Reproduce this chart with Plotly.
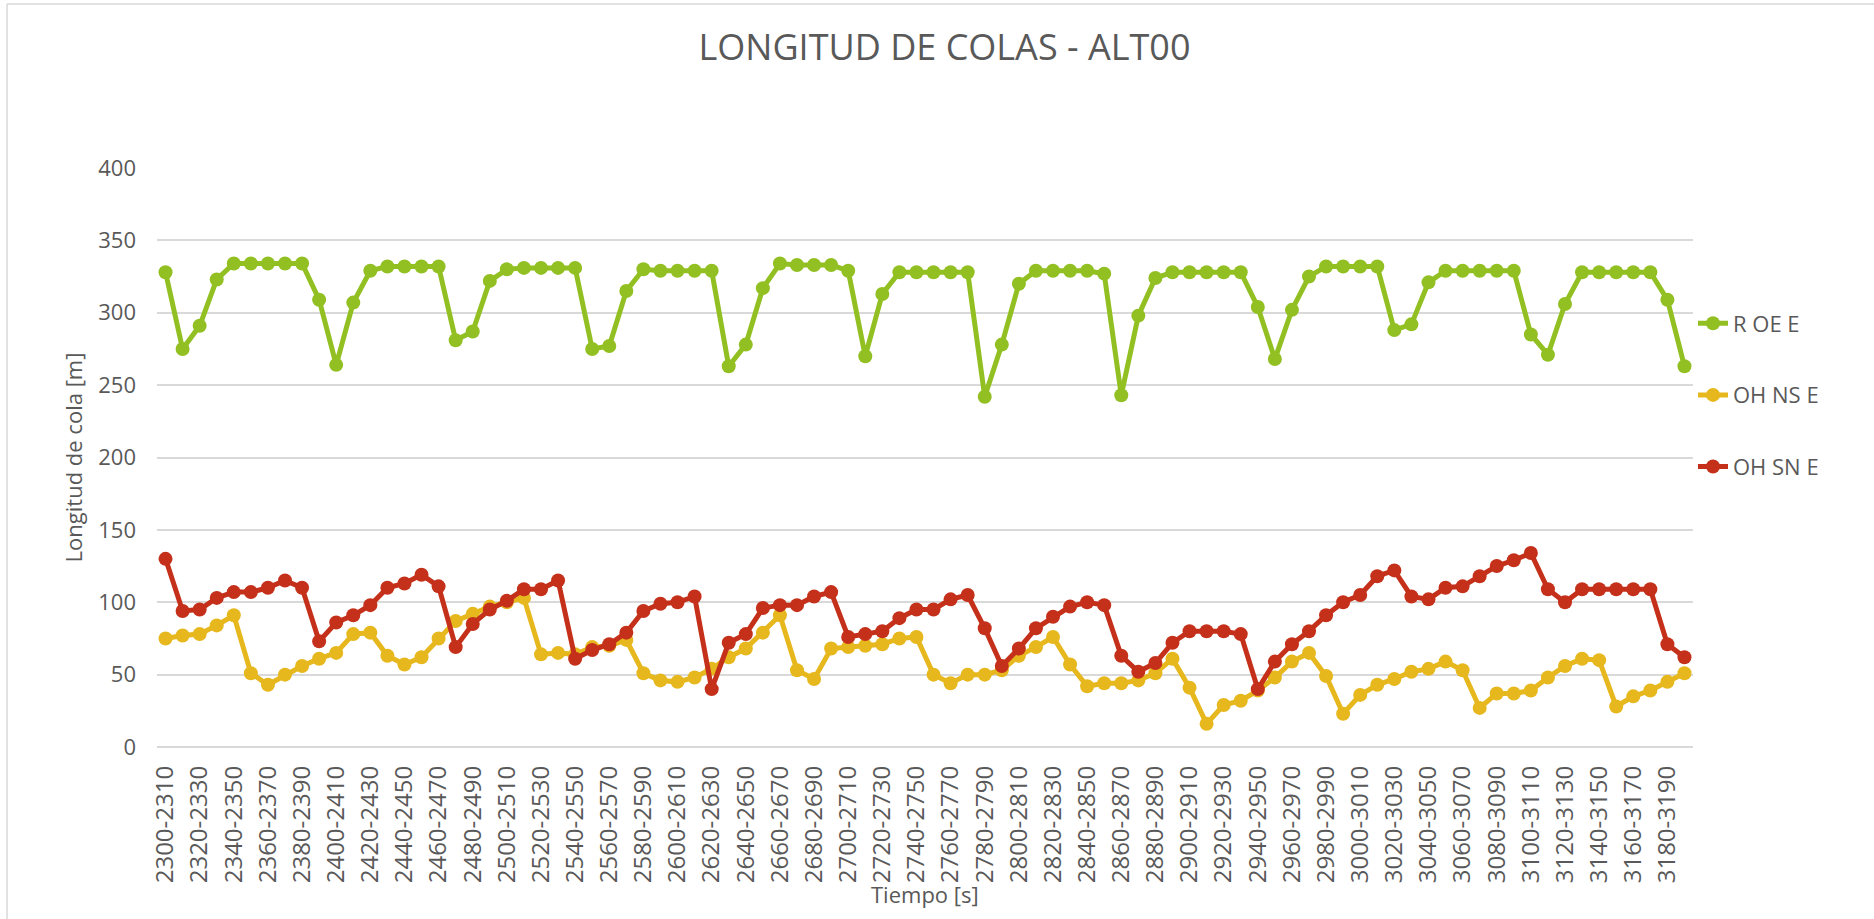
import plotly.graph_objects as go

# intervalos de tiempo [s]
tiempo = [f"{t}-{t + 10}" for t in range(2300, 3200, 10)]

r_oe_e = [
    328, 275, 291, 323, 334, 334, 334, 334, 334, 309,
    264, 307, 329, 332, 332, 332, 332, 281, 287, 322,
    330, 331, 331, 331, 331, 275, 277, 315, 330, 329,
    329, 329, 329, 263, 278, 317, 334, 333, 333, 333,
    329, 270, 313, 328, 328, 328, 328, 328, 242, 278,
    320, 329, 329, 329, 329, 327, 243, 298, 324, 328,
    328, 328, 328, 328, 304, 268, 302, 325, 332, 332,
    332, 332, 288, 292, 321, 329, 329, 329, 329, 329,
    285, 271, 306, 328, 328, 328, 328, 328, 309, 263,
]

oh_ns_e = [
    75, 77, 78, 84, 91, 51, 43, 50, 56, 61,
    65, 78, 79, 63, 57, 62, 75, 87, 92, 97,
    100, 103, 64, 65, 64, 69, 70, 74, 51, 46,
    45, 48, 54, 62, 68, 79, 91, 53, 47, 68,
    69, 70, 71, 75, 76, 50, 44, 50, 50, 53,
    63, 69, 76, 57, 42, 44, 44, 46, 51, 61,
    41, 16, 29, 32, 39, 48, 59, 65, 49, 23,
    36, 43, 47, 52, 54, 59, 53, 27, 37, 37,
    39, 48, 56, 61, 60, 28, 35, 39, 45, 51,
]

oh_sn_e = [
    130, 94, 95, 103, 107, 107, 110, 115, 110, 73,
    86, 91, 98, 110, 113, 119, 111, 69, 85, 95,
    101, 109, 109, 115, 61, 67, 71, 79, 94, 99,
    100, 104, 40, 72, 78, 96, 98, 98, 104, 107,
    76, 78, 80, 89, 95, 95, 102, 105, 82, 56,
    68, 82, 90, 97, 100, 98, 63, 52, 58, 72,
    80, 80, 80, 78, 40, 59, 71, 80, 91, 100,
    105, 118, 122, 104, 102, 110, 111, 118, 125, 129,
    134, 109, 100, 109, 109, 109, 109, 109, 71, 62,
]

series = [
    ("R OE E", r_oe_e, "#92C022"),
    ("OH NS E", oh_ns_e, "#E6B81E"),
    ("OH SN E", oh_sn_e, "#C4301A"),
]

gris = "#595959"
fuente = "Open Sans, sans-serif"

fig = go.Figure()
for i, (nombre, valores, color) in enumerate(series):
    fig.add_trace(go.Scatter(
        x=tiempo, y=valores, name=nombre, mode="lines+markers",
        line=dict(color=color, width=5),
        marker=dict(color=color, size=14),
        legendgroup=f"g{i}",
    ))

fig.update_layout(
    width=1874, height=919,
    paper_bgcolor="white", plot_bgcolor="white",
    font=dict(family=fuente, color=gris, size=22),
    margin=dict(l=157, r=181, t=168, b=172, autoexpand=False),
    title=dict(
        text="LONGITUD DE COLAS - ALT00",
        font=dict(size=36, color=gris),
        x=0.504, xref="container", xanchor="center",
        y=1 - 47 / 919, yref="container", yanchor="middle",
    ),
    showlegend=True,
    legend=dict(
        x=1.0, xanchor="left", y=(747 - 395) / 579, yanchor="middle",
        font=dict(size=22, color=gris),
        tracegroupgap=40, bgcolor="rgba(0,0,0,0)",
    ),
    xaxis=dict(
        type="category", automargin=False, range=[-0.5, len(tiempo) - 0.5],
        tickmode="array", tickvals=tiempo[::2], ticktext=tiempo[::2],
        tickangle=-90, showgrid=False, showline=False, zeroline=False,
        ticks="", ticklabelstandoff=13,
        tickfont=dict(size=24, color=gris),
    ),
    yaxis=dict(
        range=[0, 400], dtick=50, showgrid=True, gridcolor="#D9D9D9", gridwidth=1.5,
        zeroline=True, zerolinecolor="#D9D9D9", zerolinewidth=1.5, showline=False,
        ticks="", ticklabelstandoff=20, automargin=False,
        tickfont=dict(size=22, color=gris),
        title=dict(text="Longitud de cola [m]", font=dict(size=22, color=gris), standoff=9),
    ),
)

# título del eje x (queda entre las etiquetas giradas, como en Excel)
fig.add_annotation(text="Tiempo [s]", xref="paper", yref="paper",
                   x=0.5, y=(747 - 894) / 579, xanchor="center", yanchor="middle",
                   showarrow=False, font=dict(size=22, color=gris))

# borde del área del gráfico
fig.add_shape(type="line", xref="paper", yref="paper",
              x0=-150 / 1536, x1=-150 / 1536, y0=-172 / 579, y1=(747 - 4) / 579,
              line=dict(color="#D9D9D9", width=1.5))
fig.add_shape(type="line", xref="paper", yref="paper",
              x0=-150 / 1536, x1=(1874 - 157) / 1536, y0=(747 - 4) / 579, y1=(747 - 4) / 579,
              line=dict(color="#D9D9D9", width=1.5))

fig.write_html("out.html", config={"displayModeBar": False},
               post_script="document.body.style.margin='0';")
